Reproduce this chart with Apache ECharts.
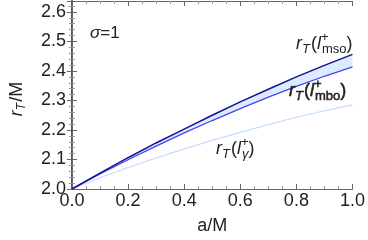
<!DOCTYPE html>
<html><head><meta charset="utf-8">
<script src="https://cdn.jsdelivr.net/npm/echarts@6/dist/echarts.min.js"></script>
<style>html,body{margin:0;padding:0;background:#fff}#c{width:368px;height:240px}</style>
</head><body><div id="c"></div>
<script>
// ---- data ----
const spinA   = [0.0, 0.1, 0.2, 0.3, 0.4, 0.5, 0.6, 0.7, 0.8, 0.9, 1.0];
const rMso    = [2.0, 2.054, 2.106, 2.156, 2.203, 2.250, 2.295, 2.338, 2.380, 2.419, 2.456];
const rMbo    = [2.0, 2.051, 2.099, 2.145, 2.190, 2.232, 2.272, 2.311, 2.348, 2.382, 2.414];
const rGamma  = [2.0, 2.038, 2.073, 2.105, 2.136, 2.165, 2.192, 2.218, 2.243, 2.265, 2.285];
const xTickLabels = ['0.0', '0.2', '0.4', '0.6', '0.8', '1.0'];
const yTickLabels = ['2.0', '2.1', '2.2', '2.3', '2.4', '2.5', '2.6'];

const pairs = (ys) => spinA.map((a, i) => [a, ys[i]]);

const FONT = '"Liberation Sans", Arial, sans-serif';
const frameCol = '#666';
const chart = echarts.init(document.getElementById('c'), null, {renderer: 'canvas'});

// ---- helper to lay out math-like labels as text pieces ----
const mctx = document.createElement('canvas').getContext('2d');
function w(t, size, italic) {
  mctx.font = (italic ? 'italic ' : '') + size + 'px ' + FONT;
  return mctx.measureText(t).width;
}
function txt(t, x, yMid, size, italic, heavy) {
  const st = {text: t, font: (italic ? 'italic ' : '') + size + 'px ' + FONT,
    fill: '#222', align: 'left', verticalAlign: 'middle'};
  if (heavy) { st.stroke = '#222'; st.lineWidth = 0.5; }
  return {type: 'text', x: x, y: yMid, style: st, z: 100};
}
function mathLabel(x0, base, pieces, heavy) {
  const els = [];
  let x = x0;
  pieces.forEach(p => {
    if (p.stack) {
      let mw = 0;
      p.stack.forEach(s => {
        els.push(txt(s.t, x + (s.dx || 0), base + s.dy - 0.35 * s.size, s.size, s.italic, heavy));
        mw = Math.max(mw, w(s.t, s.size, s.italic) + (s.dx || 0));
      });
      x += mw;
    } else {
      els.push(txt(p.t, x, base + (p.dy || 0) - 0.35 * p.size, p.size, p.italic, heavy));
      x += w(p.t, p.size, p.italic) + (p.gap || 0);
    }
  });
  return els;
}
function rT(sub, subItalic) {
  return [
    {t: 'r', size: 18, italic: true},
    {t: 'T', size: 13, italic: true, dy: 4, gap: 1},
    {t: '(', size: 18},
    {t: 'l', size: 18, italic: true, gap: 1},
    {stack: [{t: '+', size: 13, dy: -8, dx: -1}, {t: sub, size: 13, dy: 4, italic: subItalic}]},
    {t: ')', size: 18}
  ];
}

const graphics = []
  .concat(mathLabel(296, 50, rT('mso', false)))
  .concat(mathLabel(289, 97, rT('mbo', false), true))
  .concat(mathLabel(216, 155, rT('γ', true)))
  .concat(mathLabel(90, 39, [{t: 'σ', size: 17, italic: true}, {t: '=1', size: 17}]));

const option = {
  animation: false,
  grid: {left: 60, right: 13, top: 1, bottom: 49, containLabel: false},
  xAxis: [{
    type: 'value', min: 0, max: 1, interval: 0.2, position: 'bottom',
    axisLine: {show: true, lineStyle: {color: frameCol, width: 1}},
    axisTick: {show: true, inside: true, length: 5, lineStyle: {color: frameCol}},
    minorTick: {show: true, splitNumber: 4, length: 3, lineStyle: {color: '#999'}},
    splitLine: {show: false},
    axisLabel: {fontFamily: FONT, fontSize: 18, color: '#222', margin: 3,
      formatter: (v) => xTickLabels[Math.round(v / 0.2)] || ''},
    name: 'a/M', nameLocation: 'middle', nameGap: 28,
    nameTextStyle: {fontFamily: FONT, fontSize: 18, color: '#222'}
  }, {
    type: 'value', min: 0, max: 1, interval: 0.2, position: 'top',
    axisLine: {show: true, lineStyle: {color: frameCol, width: 1}},
    axisTick: {show: true, inside: true, length: 5, lineStyle: {color: frameCol}},
    minorTick: {show: true, splitNumber: 4, length: 3, lineStyle: {color: '#999'}},
    splitLine: {show: false}, axisLabel: {show: false}
  }],
  yAxis: [{
    type: 'value', min: 2.0, max: 2.637, interval: 0.1, position: 'left',
    axisLine: {show: true, lineStyle: {color: '#555', width: 2}},
    axisTick: {show: true, inside: true, length: 5, lineStyle: {color: frameCol}},
    minorTick: {show: true, splitNumber: 5, length: 3, lineStyle: {color: '#999'}},
    splitLine: {show: false},
    axisLabel: {fontFamily: FONT, fontSize: 18, color: '#222', margin: 6, showMaxLabel: false,
      formatter: (v) => yTickLabels[Math.round((v - 2.0) / 0.1)] || ''},
    name: '{i|r}{s|T}{n|/M}', nameLocation: 'middle', nameGap: 37, nameRotate: 90,
    nameTextStyle: {fontFamily: FONT, color: '#222', padding: [0, 0, 0, -8], rich: {
      i: {fontFamily: FONT, fontSize: 18, fontStyle: 'italic', color: '#222', lineHeight: 26, verticalAlign: 'middle'},
      s: {fontFamily: FONT, fontSize: 12, fontStyle: 'italic', color: '#222', lineHeight: 26, verticalAlign: 'bottom', padding: [0, 1, 2, 0]},
      n: {fontFamily: FONT, fontSize: 18, color: '#222', lineHeight: 26, verticalAlign: 'middle'}
    }}
  }, {
    type: 'value', min: 2.0, max: 2.637, interval: 0.1, position: 'right',
    axisLine: {show: true, lineStyle: {color: frameCol, width: 1}},
    axisTick: {show: true, inside: true, length: 5, lineStyle: {color: frameCol}},
    minorTick: {show: true, splitNumber: 5, length: 3, lineStyle: {color: '#999'}},
    splitLine: {show: false}, axisLabel: {show: false}
  }],
  series: [
    {type: 'custom', name: 'band', data: pairs(rMso), z: 1, clip: true,
      renderItem: function (params, api) {
        if (params.dataIndex !== 0) return null;
        const upper = spinA.map((a, i) => api.coord([a, rMso[i]]));
        const lower = spinA.map((a, i) => api.coord([a, rMbo[i]])).reverse();
        return {type: 'polygon', shape: {points: upper.concat(lower)},
          style: {fill: '#dcebff', stroke: null}};
      }},
    {type: 'line', name: 'gamma', data: pairs(rGamma), symbol: 'none',
      lineStyle: {color: '#c4dcfa', width: 1.2}, z: 2},
    {type: 'line', name: 'mbo', data: pairs(rMbo), symbol: 'none',
      lineStyle: {color: '#4646ee', width: 1.3}, z: 4},
    {type: 'line', name: 'mso', data: pairs(rMso), symbol: 'none',
      lineStyle: {color: '#14148c', width: 1.5}, z: 5}
  ],
  graphic: {elements: graphics}
};
chart.setOption(option);
</script></body></html>
